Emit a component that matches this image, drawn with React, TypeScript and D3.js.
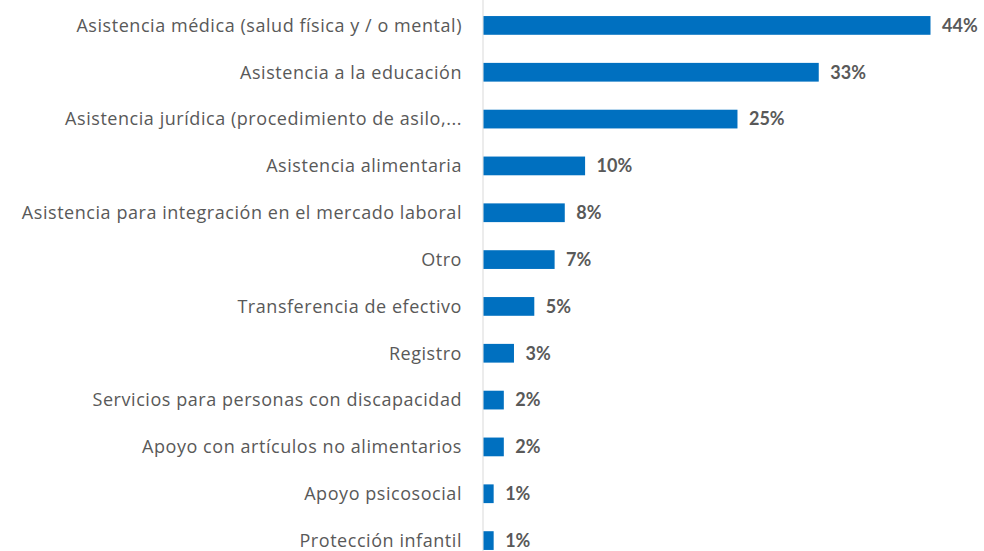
import React from "react";
import * as d3 from "d3";

const categories = [
  "Asistencia médica (salud física y / o mental)",
  "Asistencia a la educación",
  "Asistencia jurídica (procedimiento de asilo,...",
  "Asistencia alimentaria",
  "Asistencia para integración en el mercado laboral",
  "Otro",
  "Transferencia de efectivo",
  "Registro",
  "Servicios para personas con discapacidad",
  "Apoyo con artículos no alimentarios",
  "Apoyo psicosocial",
  "Protección infantil",
];
const values = [44, 33, 25, 10, 8, 7, 5, 3, 2, 2, 1, 1];

const width = 984;
const height = 551;
const axisX = 483;
const labelFont = "'Open Sans', sans-serif";
const valueFont = "Lato, 'Open Sans', sans-serif";

export default function App() {
  const data = categories.map((c, i) => ({ label: c, value: values[i] }));

  const y = d3
    .scaleBand<string>()
    .domain(categories)
    .range([2, 564])
    .paddingInner(0.6)
    .paddingOuter(0.3);
  const x = d3.scaleLinear().domain([0, 44]).range([axisX, 930]);

  return (
    <svg
      width={width}
      height={height}
      style={{ position: "absolute", left: 0, top: 0, background: "#fff" }}
    >
      <line x1={axisX} x2={axisX} y1={0} y2={height} stroke="#d9d9d9" strokeWidth={1} />
      {data.map((d) => {
        const cy = y(d.label)! + y.bandwidth() / 2;
        return (
          <g key={d.label}>
            <rect
              x={axisX + 0.5}
              y={y(d.label)}
              width={x(d.value) - axisX}
              height={y.bandwidth()}
              fill="#0070c0"
            />
            <text
              x={462}
              y={cy}
              dy="0.35em"
              textAnchor="end"
              fontFamily={labelFont}
              fontSize={18}
              letterSpacing={0.55}
              fill="#595959"
            >
              {d.label}
            </text>
            <text
              x={x(d.value) + 12}
              y={cy}
              dy="0.35em"
              fontFamily={valueFont}
              fontSize={18}
              fontWeight="bold"
              fill="#595959"
            >
              {d.value}%
            </text>
          </g>
        );
      })}
    </svg>
  );
}
